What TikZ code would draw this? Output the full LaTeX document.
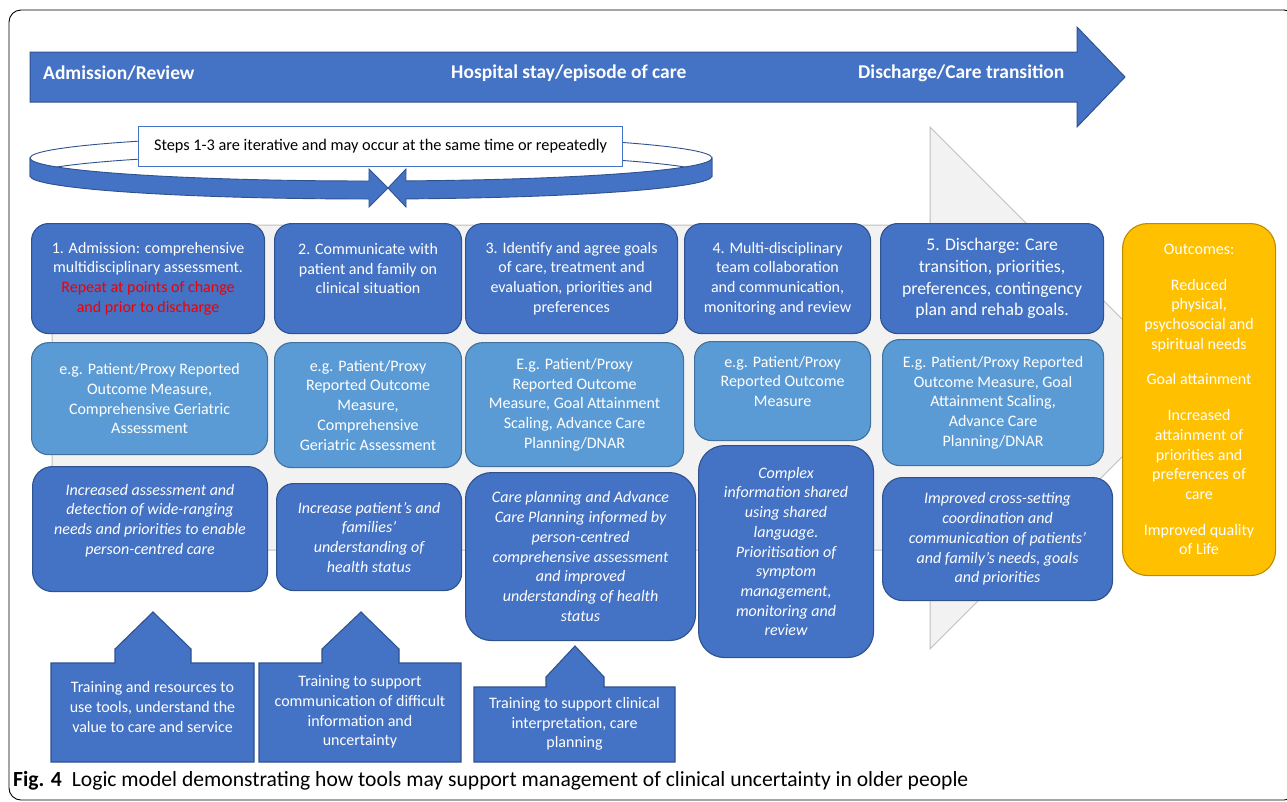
\documentclass[tikz,border=0pt]{standalone}
\usepackage{fontspec}
\setmainfont{Carlito}
\usetikzlibrary{positioning}
\definecolor{accblue}{HTML}{4472C4}
\definecolor{accline}{HTML}{2F528F}
\definecolor{lightblue}{HTML}{5B9BD5}
\definecolor{lightline}{HTML}{41719C}
\definecolor{gold}{HTML}{FFC000}
\definecolor{goldline}{HTML}{BC8C00}
\definecolor{greyfill}{HTML}{F2F2F2}
\definecolor{greyline}{HTML}{BFBFBF}
\definecolor{redtxt}{HTML}{F00000}
\tikzset{blk/.style={rounded corners=17pt,line width=1.1pt,text=white,align=center,anchor=north west,inner sep=2pt,font=\fontsize{16}{19.7}\selectfont}}
\tikzset{stp/.style={blk,fill=accblue,draw=accline}}
\tikzset{tool/.style={blk,fill=lightblue,draw=lightline}}
\tikzset{eff/.style={stp,font=\fontsize{16}{19.7}\selectfont\itshape}}
\tikzset{outc/.style={blk,fill=gold,draw=goldline,rounded corners=25pt}}
\tikzset{trn/.style={fill=accblue,draw=accline,line width=1.1pt}}
\tikzset{trnt/.style={text=white,align=center,font=\fontsize{16}{19.7}\selectfont}}
\tikzset{hdr/.style={text=white,anchor=west,inner sep=0pt,font=\fontsize{19.5}{22}\selectfont\bfseries}}
\tikzset{ring/.style={fill=accblue,draw=accline,line width=0.9pt}}

\begin{document}
\begin{tikzpicture}[x=1pt,y=-1pt]
\useasboundingbox (0,0) rectangle (1287,801);
\clip (0,0) rectangle (1287,801);
\draw[rounded corners=12pt,line width=0.9pt] (9,10) rectangle (1296,800);

% timeline
\path[fill=accblue,draw=accline,line width=1pt] (30,52) -- (1077,52) -- (1077,27) -- (1125,77) -- (1077,127) -- (1077,102) -- (30,102) -- cycle;
\node[hdr] (h1) at (43,73) {Admission/Review};
\node[hdr] (h2) at (451,73) {Hospital stay/episode of care};
\node[hdr] (h3) at (858,73) {Discharge/Care transition};

% background chevron
\path[fill=greyfill,draw=greyline,line width=1pt] (52,225) -- (930,225) -- (930,127) -- (1191,388) -- (930,649) -- (930,550) -- (52,550) -- cycle;

% iterative ring
\path[fill=white,draw=accline,line width=0.9pt] (30,158) arc[start angle=180,end angle=360,x radius=341,y radius=23] -- (712,176) arc[start angle=0,end angle=-180,x radius=341,y radius=23] -- cycle;
\path[ring] (30,158) arc[start angle=180,end angle=90.34,x radius=341,y radius=23] -- (369,169) -- (388,188) -- (369,207) -- (369,199) arc[start angle=90.34,end angle=180,x radius=341,y radius=23] -- cycle;
\path[ring] (712,158) arc[start angle=0,end angle=84.11,x radius=341,y radius=23] -- (406,169) -- (388,188) -- (406,207) -- (406,198.9) arc[start angle=84.11,end angle=0,x radius=341,y radius=23] -- cycle;
\node[draw=accblue,fill=white,line width=1pt,anchor=north west,minimum width=484pt,minimum height=40pt,font=\fontsize{16.3}{19.7}\selectfont] (iter) at (138,126) {Steps 1-3 are iterative and may occur at the same time or repeatedly};

% steps
\node[stp,minimum width=233pt,minimum height=110pt] (s1) at (31,223) {1. Admission: comprehensive\\multidisciplinary assessment.\\\textcolor{redtxt}{Repeat at points of change}\\\textcolor{redtxt}{and prior to discharge}};
\node[stp,minimum width=187pt,minimum height=110pt] (s2) at (274,223) {2. Communicate with\\patient and family on\\clinical situation\\\mbox{}};
\node[stp,minimum width=212pt,minimum height=110pt] (s3) at (465,223) {3. Identify and agree goals\\of care, treatment and\\evaluation, priorities and\\preferences};
\node[stp,minimum width=186pt,minimum height=110pt] (s4) at (684,223) {4. Multi-disciplinary\\team collaboration\\and communication,\\monitoring and review};
\node[stp,minimum width=223pt,minimum height=110pt,font=\fontsize{17.7}{21.7}\selectfont] (s5) at (880,223) {5. Discharge: Care\\transition, priorities,\\preferences, contingency\\plan and rehab goals.};

% tools
\node[tool,minimum width=236pt,minimum height=112pt,below=8pt of s1.south west,anchor=north west] (t1) {e.g. Patient/Proxy Reported\\Outcome Measure,\\Comprehensive Geriatric\\Assessment};
\node[tool,minimum width=187pt,minimum height=125pt,below=8pt of s2.south west,anchor=north west] (t2) {e.g. Patient/Proxy\\Reported Outcome\\Measure,\\Comprehensive\\Geriatric Assessment};
\node[tool,minimum width=218pt,minimum height=124pt,below=8pt of s3.south west,anchor=north west] (t3) {E.g. Patient/Proxy\\Reported Outcome\\Measure, Goal Attainment\\Scaling, Advance Care\\Planning/DNAR};
\node[tool,minimum width=176pt,minimum height=99pt] (t4) at (694,341) {e.g. Patient/Proxy\\Reported Outcome\\Measure\\\mbox{}};
\node[tool,minimum width=221pt,minimum height=126pt] (t5) at (882,339) {E.g. Patient/Proxy Reported\\Outcome Measure, Goal\\Attainment Scaling,\\Advance Care\\Planning/DNAR};

% effects
\node[eff,minimum width=235pt,minimum height=125pt,rounded corners=20pt] (o1) at (32,466) {Increased assessment and\\detection of wide-ranging\\needs and priorities to enable\\person-centred care\\\mbox{}};
\node[eff,minimum width=185pt,minimum height=107pt] (o2) at (276,483) {Increase patient’s and\\families’\\understanding of\\health status};
\node[eff,minimum width=230pt,minimum height=168pt,rounded corners=26pt] (o3) at (465,472) {Care planning and Advance\\Care Planning informed by\\person-centred\\comprehensive assessment\\and improved\\understanding of health\\status};
\node[eff,minimum width=175pt,minimum height=212pt,rounded corners=26pt] (o4) at (698,445) {Complex\\information shared\\using shared\\language.\\Prioritisation of\\symptom\\management,\\monitoring and\\review};
\node[eff,minimum width=230pt,minimum height=123pt,rounded corners=20pt] (o5) at (882,477) {Improved cross-setting\\coordination and\\communication of patients’\\and family’s needs, goals\\and priorities};

% outcomes
\node[outc,minimum width=153pt,minimum height=352pt] (res) at (1122,223) {Outcomes:\\[16pt]Reduced\\physical,\\psychosocial and\\spiritual needs\\[16pt]Goal attainment\\[16pt]Increased\\attainment of\\priorities and\\preferences of\\care\\[16pt]Improved quality\\of Life};

% training
\path[trn] (51,762) -- (51,663) -- (115,663) -- (115,649) -- (153,612) -- (191,649) -- (191,663) -- (254,663) -- (254,762) -- cycle;
\node[trnt] (r1) at (152.5,707) {Training and resources to\\use tools, understand the\\value to care and service};
\path[trn] (259,762) -- (259,663) -- (322,663) -- (322,649) -- (361,612) -- (399,649) -- (399,663) -- (461,663) -- (461,762) -- cycle;
\node[trnt] (r2) at (360,712) {Training to support\\communication of difficult\\information and\\uncertainty};
\path[trn] (474,762) -- (474,687) -- (546,687) -- (546,677) -- (575,646) -- (604,677) -- (604,687) -- (675,687) -- (675,762) -- cycle;
\node[trnt] (r3) at (574.5,724) {Training to support clinical\\interpretation, care\\planning};

\node[anchor=west,inner sep=0pt,font=\fontsize{21.6}{24}\selectfont] (cap) at (13,781) {\textbf{Fig. 4}\hspace{10pt}Logic model demonstrating how tools may support management of clinical uncertainty in older people};
\end{tikzpicture}
\end{document}
